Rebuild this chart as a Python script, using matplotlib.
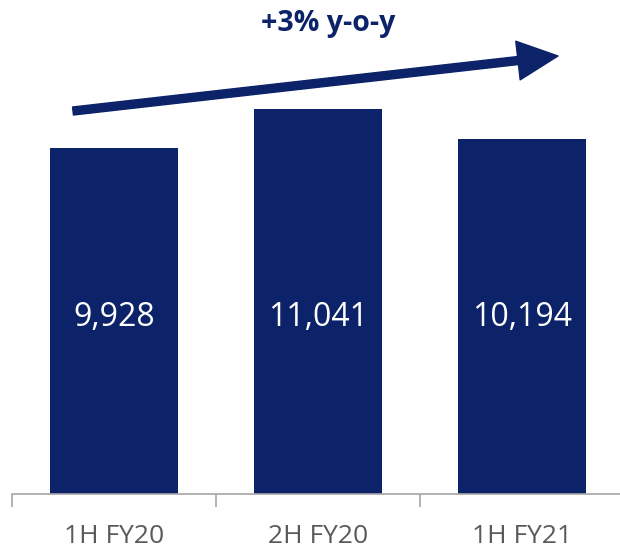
import numpy as np
import matplotlib
matplotlib.use("Agg")
import matplotlib.pyplot as plt

# data
periods = ["1H FY20", "2H FY20", "1H FY21"]
values = [9928, 11041, 10194]
growth_label = "+3% y-o-y"

navy = "#0c2369"
fnt = "Open Sans"

fig = plt.figure(figsize=(6.2, 5.51), dpi=100)
W, H = 620.0, 551.0
base_px = 494.0
ax = fig.add_axes([12 / W, (H - base_px) / H, 612 / W, base_px / H])

x = np.arange(len(periods))
bars = ax.bar(x, values, width=0.627, color=navy, zorder=2)

ymax = base_px * values[0] / (base_px - 148.0)
ax.set_xlim(-0.5, 2.5)
ax.set_ylim(0, ymax)

# value labels inside bars
lab_y = ymax * (base_px - 318.0) / base_px
for xi, v in zip(x, values):
    ax.text(xi, lab_y, f"{v:,}", ha="center", va="center", color="white",
            fontsize=23, family=fnt)

# axes styling
for s in ["top", "right", "left"]:
    ax.spines[s].set_visible(False)
ax.spines["bottom"].set_color("#a6a6a6")
ax.spines["bottom"].set_linewidth(1.2)
ax.set_yticks([])
ax.set_xticks([-0.5, 0.5, 1.5, 2.5], minor=False)
ax.set_xticklabels([])
ax.tick_params(axis="x", which="major", length=9, width=1.2, color="#a6a6a6")
ax.set_xticks(x, minor=True)
ax.set_xticklabels(periods, minor=True, fontsize=19, color="#595959", family=fnt)
ax.tick_params(axis="x", which="minor", length=0, pad=21.5)

# growth arrow & label
ax.annotate("", xy=(558, H - 56), xytext=(73, H - 111),
            xycoords="figure pixels", textcoords="figure pixels",
            arrowprops=dict(arrowstyle="simple,head_length=2.9,head_width=2.8,tail_width=0.58",
                            color=navy, shrinkA=0, shrinkB=0, mutation_scale=10),
            annotation_clip=False)
fig.text(328 / W, 1 - 31 / H, growth_label, ha="center", va="baseline",
         fontsize=20.5, fontweight="bold", color=navy, family=fnt)

fig.savefig("out.png", dpi=100)
